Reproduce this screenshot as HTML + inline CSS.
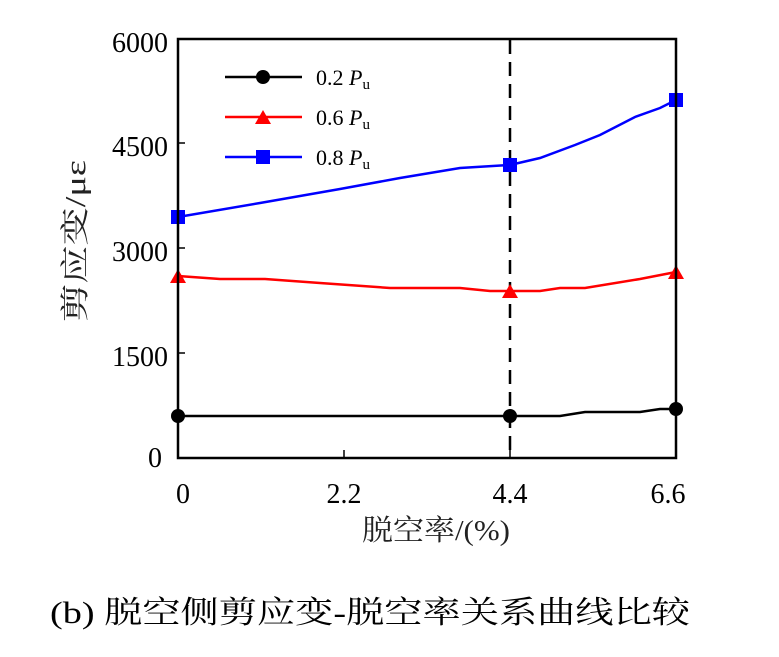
<!DOCTYPE html>
<html><head><meta charset="utf-8"><style>body{margin:0;background:#fff}</style></head><body>
<svg width="779" height="652" xmlns="http://www.w3.org/2000/svg" font-family="Liberation Serif, Noto Serif CJK SC, serif">
<rect width="779" height="652" fill="#fff"/>
<g stroke="#000" stroke-width="1.5">
<line x1="178" y1="353" x2="185" y2="353"/><line x1="178" y1="248" x2="185" y2="248"/><line x1="178" y1="143" x2="185" y2="143"/>
<line x1="344" y1="458" x2="344" y2="450"/><line x1="510" y1="458" x2="510" y2="450"/>
</g>
<line x1="510" y1="40" x2="510" y2="458" stroke="#000" stroke-width="2.5" stroke-dasharray="14,8"/>
<polyline fill="none" stroke="#000" stroke-width="2.5" points="178,416 510,416 560,416 585,412 640,412 660,409 676,409"/>
<polyline fill="none" stroke="#f00" stroke-width="2.5" points="178,276 220,279 265,279 320,283 390,288 460,288 490,291 510,291 540,291 560,288 585,288 640,279 676,272"/>
<polyline fill="none" stroke="#00f" stroke-width="2.5" points="178,217 260,203 340,189 400,178 460,168 510,165 540,158 575,145 600,135 635,117 660,108 676,100"/>
<circle cx="178" cy="416" r="7"/><circle cx="510" cy="416" r="7"/><circle cx="676" cy="409" r="7"/>
<g fill="#f00"><polygon points="178,269 186,283 170,283"/><polygon points="510,284 518,298 502,298"/><polygon points="676,265 684,279 668,279"/></g>
<g fill="#00f"><rect x="171" y="210" width="14" height="14"/><rect x="503" y="158" width="14" height="14"/><rect x="669" y="93" width="14" height="14"/></g>
<rect x="178" y="39" width="498" height="419" fill="none" stroke="#000" stroke-width="2.5"/>
<line x1="225" y1="77" x2="302" y2="77" stroke="#000" stroke-width="2.5"/><circle cx="263" cy="77" r="7"/>
<line x1="225" y1="117" x2="302" y2="117" stroke="#f00" stroke-width="2.5"/><polygon points="263,110 271,124 255,124" fill="#f00"/>
<line x1="225" y1="157" x2="302" y2="157" stroke="#00f" stroke-width="2.5"/><rect x="256" y="150" width="14" height="14" fill="#00f"/>
<g font-size="22"><text x="316" y="85">0.2 <tspan font-style="italic">P</tspan><tspan font-size="15" dy="4">u</tspan></text>
<text x="316" y="125">0.6 <tspan font-style="italic">P</tspan><tspan font-size="15" dy="4">u</tspan></text>
<text x="316" y="165">0.8 <tspan font-style="italic">P</tspan><tspan font-size="15" dy="4">u</tspan></text></g>
<g font-size="28" text-anchor="end"><text x="168" y="52">6000</text><text x="168" y="156">4500</text><text x="168" y="261">3000</text><text x="168" y="366">1500</text><text x="162" y="467">0</text></g>
<g font-size="28" text-anchor="middle"><text x="183" y="503">0</text><text x="344" y="503">2.2</text><text x="510" y="503">4.4</text><text x="668" y="503">6.6</text></g>
<text x="362" y="540" font-size="29" textLength="148" lengthAdjust="spacingAndGlyphs" fill="#222">脱空率/(%)</text>
<text transform="translate(85,322) rotate(-90)" font-size="29" textLength="162" lengthAdjust="spacingAndGlyphs" fill="#222">剪应变/με</text>
<text x="50" y="623" font-size="31" textLength="640" lengthAdjust="spacingAndGlyphs">(b)  脱空侧剪应变-脱空率关系曲线比较</text>
</svg>
</body></html>
